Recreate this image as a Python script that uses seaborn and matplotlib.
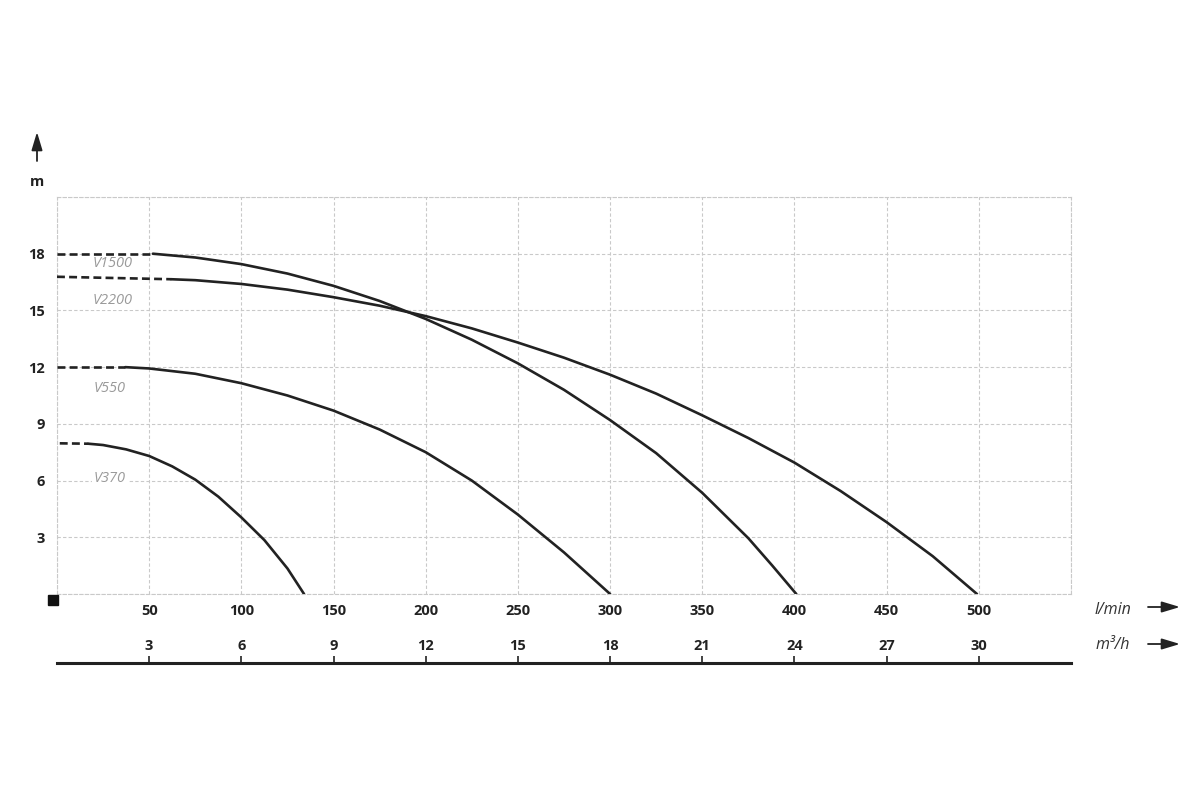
import numpy as np
import pandas as pd
import matplotlib
matplotlib.use("Agg")
import matplotlib.pyplot as plt
from matplotlib.patches import Rectangle, FancyArrowPatch
import seaborn as sns

sns.set_style("white")
plt.rcParams['font.family'] = ['Open Sans', 'DejaVu Sans']

# pump curves: flow in l/min, head in m
# dashed part (low flow) and solid part for each pump
pumps = ["V370", "V550", "V1500", "V2200"]

v370_dash_flow = [1.5, 17]
v370_dash_head = [7.97, 7.95]
v370_flow = [17, 25, 37.5, 50, 62.5, 75, 87.5, 100, 112.5, 125, 134]
v370_head = [7.95, 7.88, 7.65, 7.3, 6.75, 6.05, 5.15, 4.05, 2.85, 1.35, 0.0]

v550_dash_flow = [0, 37]
v550_dash_head = [12.0, 12.0]
v550_flow = [37, 50, 75, 100, 125, 150, 175, 200, 225, 250, 275, 300]
v550_head = [12.0, 11.93, 11.65, 11.15, 10.5, 9.7, 8.7, 7.5, 6.0, 4.2, 2.2, 0.0]

v1500_dash_flow = [0, 52]
v1500_dash_head = [18.0, 18.0]
v1500_flow = [52, 75, 100, 125, 150, 175, 200, 225, 250, 275, 300, 325, 350, 375, 388, 401]
v1500_head = [18.0, 17.8, 17.45, 16.95, 16.3, 15.5, 14.55, 13.45, 12.2, 10.8, 9.2, 7.45, 5.35, 2.95, 1.5, 0.0]

v2200_dash_flow = [0, 62]
v2200_dash_head = [16.78, 16.65]
v2200_flow = [62, 75, 100, 125, 150, 175, 200, 225, 250, 275, 300, 325, 350, 375, 400, 425, 450, 475, 499]
v2200_head = [16.65, 16.6, 16.4, 16.1, 15.7, 15.25, 14.7, 14.05, 13.3, 12.5, 11.6, 10.6, 9.45,
              8.25, 6.95, 5.45, 3.8, 2.0, 0.0]

# label anchor positions (l/min, m)
label_flow = [28.6, 28.6, 30.3, 30.3]
label_head = [6.1, 10.85, 17.5, 15.55]

x_ticks = [0, 50, 100, 150, 200, 250, 300, 350, 400, 450, 500, 550]
y_ticks = [0, 3, 6, 9, 12, 15, 18, 21]
m3h_ticks = [3, 6, 9, 12, 15, 18, 21, 24, 27, 30]

rows = []
curves = {
    "V370": (v370_dash_flow, v370_dash_head, v370_flow, v370_head),
    "V550": (v550_dash_flow, v550_dash_head, v550_flow, v550_head),
    "V1500": (v1500_dash_flow, v1500_dash_head, v1500_flow, v1500_head),
    "V2200": (v2200_dash_flow, v2200_dash_head, v2200_flow, v2200_head),
}
for name, (df_, dh_, sf_, sh_) in curves.items():
    for f, h in zip(df_, dh_):
        rows.append((name, name + "-d", "dashed", f, h))
    for f, h in zip(sf_, sh_):
        rows.append((name, name + "-s", "solid", f, h))
df = pd.DataFrame(rows, columns=["pump", "seg", "part", "flow", "head"])

fig = plt.figure(figsize=(12, 8), dpi=100)
ax = fig.add_axes([57 / 1200, 1 - 594 / 800, (1071 - 57) / 1200, (594 - 197) / 800])

grid_color = "#c9c9c9"
sns.lineplot(data=df, x="flow", y="head", units="seg", estimator=None, sort=False,
             style="part", dashes={"solid": "", "dashed": (3, 1.6)},
             color="#222222", linewidth=1.9, legend=False, ax=ax, zorder=3)

ax.set_xlim(0, 550)
ax.set_ylim(0, 21)
ax.set_xticks(x_ticks)
ax.set_xticklabels([""] + [str(v) for v in x_ticks[1:-1]] + [""])
ax.set_yticks(y_ticks)
ax.set_yticklabels([""] + [str(v) for v in y_ticks[1:-1]] + [""])
ax.grid(True, color=grid_color, linestyle=(0, (3, 2)), linewidth=0.8)
ax.set_xlabel("")
ax.set_ylabel("")
for s in ax.spines.values():
    s.set_color(grid_color)
    s.set_linestyle((0, (3, 2)))
    s.set_linewidth(0.8)
ax.tick_params(axis="both", length=0, labelsize=10.5, colors="#222222")
ax.tick_params(axis="x", pad=7)
ax.tick_params(axis="y", pad=8.5)
for t in ax.get_xticklabels() + ax.get_yticklabels():
    t.set_fontweight("bold")

for name, fx, hy in zip(pumps, label_flow, label_head):
    ax.text(fx, hy, name, ha="center", va="center", fontsize=10.5, style="italic",
            color="#9a9a9a", zorder=2,
            bbox=dict(facecolor="white", edgecolor="none", pad=1.5))

# second scale in m3/h
sec = ax.secondary_xaxis((594 - 663) / (594 - 197), functions=(lambda x: x * 0.06, lambda x: x / 0.06))
sec.set_alignment("top")
sec.set_xticks(m3h_ticks)
sec.spines["top"].set_color("#222222")
sec.spines["top"].set_linewidth(2.2)
sec.spines["top"].set_linestyle("-")
sec.tick_params(axis="x", direction="out", length=5, width=1.2, colors="#222222",
                labelsize=10.5, pad=2)
for t in sec.get_xticklabels():
    t.set_fontweight("bold")

# unit labels and arrows
fig.text(1113 / 1200, 1 - 610 / 800, "l/min", ha="center", va="center", fontsize=11.5,
         style="italic", color="#333333")
fig.text(1113 / 1200, 1 - 645 / 800, "m³/h", ha="center", va="center", fontsize=11.5,
         style="italic", color="#333333")
arrow_kw = dict(arrowstyle="-|>,head_length=1.1,head_width=0.33", mutation_scale=10,
                color="#222222", lw=1.3, shrinkA=0, shrinkB=0)
for yy in (607, 644):
    fig.add_artist(FancyArrowPatch((1148 / 1200, 1 - yy / 800), (1180 / 1200, 1 - yy / 800),
                                   transform=fig.transFigure, **arrow_kw))
fig.add_artist(FancyArrowPatch((37 / 1200, 1 - 161 / 800), (37 / 1200, 1 - 132 / 800),
                               transform=fig.transFigure, **arrow_kw))
fig.text(37 / 1200, 1 - 182 / 800, "m", ha="center", va="center", fontsize=10.5,
         fontweight="bold", color="#222222")
fig.add_artist(Rectangle((48 / 1200, 1 - 605 / 800), 10 / 1200, 10 / 800,
                         transform=fig.transFigure, color="#111111"))

fig.savefig("out.png", dpi=100)
